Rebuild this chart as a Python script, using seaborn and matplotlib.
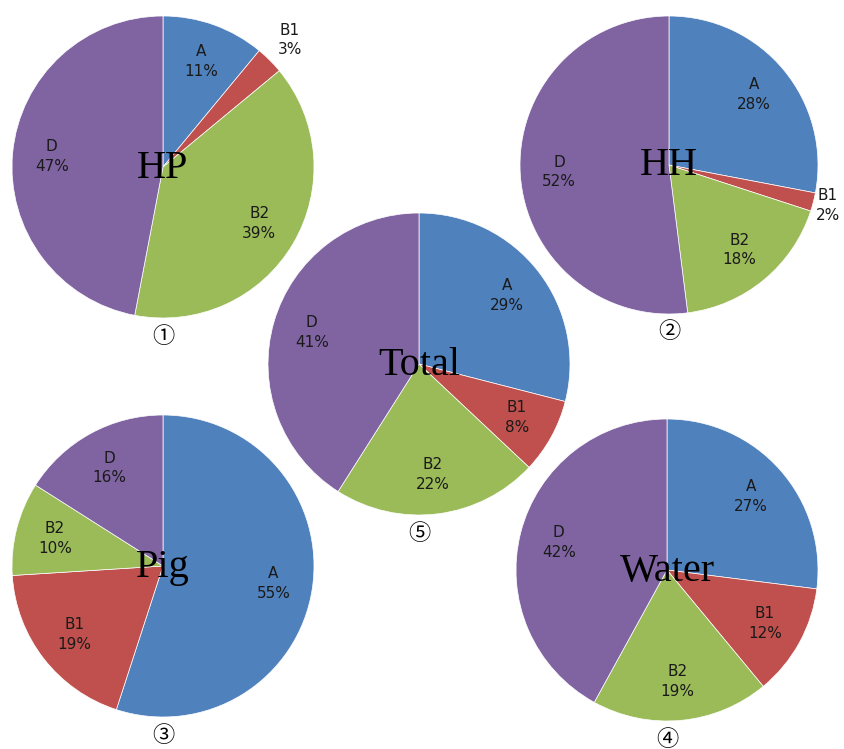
import matplotlib
matplotlib.use('Agg')
import numpy as np
import matplotlib.pyplot as plt
import seaborn as sns

# data (percent)
categories = ['A', 'B1', 'B2', 'D']
hp = [11, 3, 39, 47]
hh = [28, 2, 18, 52]
pig = [55, 19, 10, 16]
water = [27, 12, 19, 42]
total = [29, 8, 22, 41]
pie_names = ['HP', 'HH', 'Pig', 'Water', 'Total']
pie_marks = ['①', '②', '③', '④', '⑤']

sns.set_theme(style='white')
colors = sns.color_palette(['#4F81BD', '#C0504D', '#9BBB59', '#8064A2'])

W, H = 844, 749
fig = plt.figure(figsize=(W / 100, H / 100), dpi=100)
fig.patch.set_facecolor('white')

# centre x, centre y (pixels from top-left), radius, distance of outside labels
layout = {
    'HP': (163, 167, 151, 1.19),
    'HH': (669, 165, 149, 1.10),
    'Pig': (163, 566, 151, 1.17),
    'Water': (667, 570, 151, 1.17),
    'Total': (419, 364, 151, 1.17),
}


def draw_pie(name, values, mark):
    cx, cy, r, out_d = layout[name]
    ax = fig.add_axes([(cx - r) / W, 1 - (cy + r) / H, 2 * r / W, 2 * r / H])
    labels = [f'{c}\n{v}%' for c, v in zip(categories, values)]
    wedges, texts = ax.pie(
        values, labels=labels, colors=colors, startangle=90, counterclock=False,
        labeldistance=0.74,
        wedgeprops=dict(edgecolor='white', linewidth=0.5),
        textprops=dict(ha='center', va='center', fontsize=11, linespacing=1.4,
                       color='#1a1a1a', family='DejaVu Sans'))
    # small slices get their label outside, like Excel's best fit
    for w, t, v in zip(wedges, texts, values):
        if v < 5:
            ang = np.deg2rad((w.theta1 + w.theta2) / 2)
            t.set_position((out_d * np.cos(ang), out_d * np.sin(ang)))
    ax.text(0, -0.07, name, ha='center', va='baseline', fontsize=29,
            family='Liberation Serif', color='black')
    ax.text(0, -1.12, mark, ha='center', va='center', fontsize=16,
            family=['Noto Sans CJK SC', 'DejaVu Sans'], color='black')
    ax.set_xlim(-1, 1)
    ax.set_ylim(-1, 1)
    ax.set_aspect('equal')
    ax.axis('off')


for name, vals, mark in zip(pie_names, [hp, hh, pig, water, total], pie_marks):
    draw_pie(name, vals, mark)

fig.savefig('out.png', dpi=100, facecolor='white')
